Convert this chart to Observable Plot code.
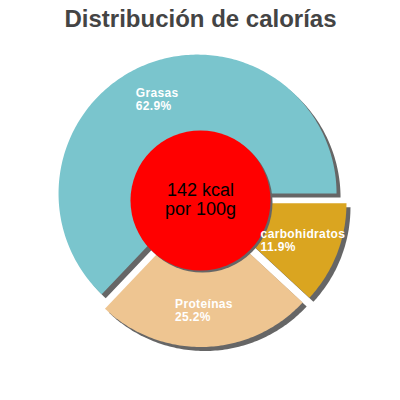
<!DOCTYPE html>
<html>
<head>
<meta charset="utf-8">
<script src="https://cdn.jsdelivr.net/npm/d3@7"></script>
<script src="https://cdn.jsdelivr.net/npm/@observablehq/plot@0.6"></script>
<style>
  html, body { margin: 0; padding: 0; background: #fff; }
</style>
</head>
<body>
<div id="chart"></div>
<script>
// ---- data ----
const title = "Distribución de calorías";
const categories = ["Grasas", "Proteínas", "carbohidratos"];
const percents = [62.9, 25.2, 11.9];
const colors = ["#7AC5CD", "#EEC591", "#DAA520"];
const kcal = 142;
const centerLabel = `${kcal} kcal\npor 100g`;

// ---- layout constants ----
const W = 400, H = 400;
const Rpx = 139;          // pie radius in px
const explodePx = 7.5;    // explode offset in px
const holePx = 70;        // red centre radius in px
const labelPx = 110;      // label distance in px
const font = "'Liberation Sans', Arial, sans-serif";
const labelSize = 12;
const labelSpacing = 0.35;

const ex = explodePx / Rpx;
const lr = labelPx / Rpx;

// angles (math orientation, start at east, counter-clockwise)
const total = d3.sum(percents);
let acc = 0;
const slices = categories.map((c, i) => {
  const a0 = acc / total * 2 * Math.PI;
  acc += percents[i];
  const a1 = acc / total * 2 * Math.PI;
  return {cat: c, pct: percents[i], color: colors[i], a0, a1, mid: (a0 + a1) / 2};
});

// polygon points for each slice
const pts = [];
for (const s of slices) {
  const ox = ex * Math.cos(s.mid), oy = ex * Math.sin(s.mid);
  pts.push({cat: s.cat, color: s.color, x: ox, y: oy});
  const n = Math.max(8, Math.ceil((s.a1 - s.a0) / (Math.PI / 180)));
  for (let k = 0; k <= n; k++) {
    const a = s.a0 + (s.a1 - s.a0) * k / n;
    pts.push({cat: s.cat, color: s.color, x: ox + Math.cos(a), y: oy + Math.sin(a)});
  }
}

// label positions (block centred on bisector, lines left aligned)
const ctx = document.createElement("canvas").getContext("2d");
ctx.font = `bold ${labelSize}px ${font}`;
const tw = t => ctx.measureText(t).width + labelSpacing * t.length;
const labels = slices.map(s => {
  const t1 = s.cat, t2 = `${s.pct.toFixed(1)}%`;
  const w = Math.max(tw(t1), tw(t2));
  return {
    text: `${t1}\n${t2}`,
    x: lr * Math.cos(s.mid) - (w / 2) / Rpx,
    y: lr * Math.sin(s.mid)
  };
});

const half = (W / 2) / Rpx;

const chart = Plot.plot({
  width: W,
  height: H,
  margin: 0,
  x: {domain: [-half, half], axis: null},
  y: {domain: [-half, half], axis: null},
  style: {fontFamily: font, background: "#fff"},
  marks: [
    // shadows
    Plot.line(pts, {x: "x", y: "y", z: "cat", fill: "#666", stroke: "none", curve: "linear-closed", dx: 4, dy: 4}),
    // slices
    Plot.line(pts, {x: "x", y: "y", z: "cat", fill: "color", stroke: "none", curve: "linear-closed"}),
    // centre circle shadow + circle
    Plot.dot([{x: 0, y: 0}], {x: "x", y: "y", r: holePx, fill: "#666", stroke: "none", dx: 2, dy: 2}),
    Plot.dot([{x: 0, y: 0}], {x: "x", y: "y", r: holePx, fill: "#FF0000", stroke: "none"}),
    // centre text
    Plot.text([centerLabel], {x: 0, y: 0, text: d => d, fontSize: 18, fill: "#000", lineHeight: 1.08, lineAnchor: "middle", dy: -1}),
    // slice labels
    Plot.text(labels, {x: "x", y: "y", text: "text", fill: "#fff", fontSize: labelSize, fontWeight: "bold", textAnchor: "start", lineAnchor: "middle", lineHeight: 1.05})
      ,
    // title
    Plot.text([title], {frameAnchor: "top", text: d => d, fontSize: 24, fontWeight: "bold", fill: "#444", lineAnchor: "top", dy: 9})
  ]
});
chart.querySelectorAll("text").forEach(t => {
  if (t.getAttribute("font-size") === String(labelSize)) t.style.letterSpacing = `${labelSpacing}px`;
});
d3.select(chart).selectAll("g[aria-label='text'] text").each(function() {
  const fs = this.parentNode.getAttribute("font-size");
  if (fs === String(labelSize)) this.style.letterSpacing = `${labelSpacing}px`;
});
document.getElementById("chart").appendChild(chart);
</script>
</body>
</html>
